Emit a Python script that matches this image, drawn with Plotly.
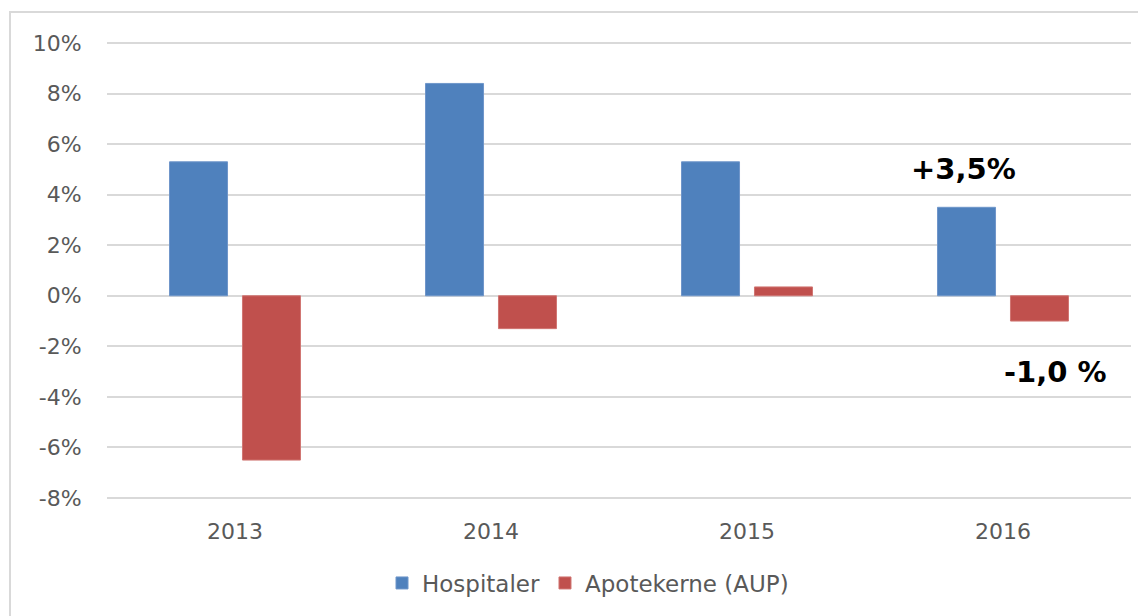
import plotly.graph_objects as go

years = ["2013", "2014", "2015", "2016"]
hospitaler = [5.3, 8.4, 5.3, 3.5]
apotekerne = [-6.5, -1.3, 0.35, -1.0]
series_names = ["Hospitaler", "Apotekerne (AUP)"]
tick_vals = [-8, -6, -4, -2, 0, 2, 4, 6, 8, 10]
tick_text = [f"{v}%" for v in tick_vals]
ann_texts = ["+3,5%", "-1,0 %"]
ann_y = [5.0, -3.0]

# page has an 8px body margin, so figure coordinates are page coordinates minus 8
OFF = 8
W, H = 1146, 616
ML, MT = 107 - OFF, 42 - OFF
MR = W - (1131 - OFF)
MB = H - (499 - OFF)
pw, ph = W - ML - MR, H - MT - MB

def px(x):
    return (x - OFF - ML) / pw

def py(y):
    return (H - MB - (y - OFF)) / ph

fig = go.Figure()
fig.add_trace(go.Bar(x=years, y=hospitaler, name=series_names[0],
                     marker=dict(color="#4F81BD", line=dict(color="#6F96CA", width=1))))
fig.add_trace(go.Bar(x=years, y=apotekerne, name=series_names[1],
                     marker=dict(color="#C0504D", line=dict(color="#D07572", width=1))))

# annotation x given as category index of the last year
last = years.index("2016")
fig.add_annotation(x=last, y=ann_y[0], text=ann_texts[0], showarrow=False,
                   xshift=-40, font=dict(family="DejaVu Sans", size=29, color="#000000", weight="bold"))
fig.add_annotation(x=last, y=ann_y[1], text=ann_texts[1], showarrow=False,
                   xshift=52, font=dict(family="DejaVu Sans", size=29, color="#000000", weight="bold"))

fig.add_shape(type="rect", xref="paper", yref="paper",
              x0=px(10), x1=px(1170), y0=py(650), y1=py(12),
              line=dict(color="#D9D9D9", width=2), fillcolor="rgba(0,0,0,0)", layer="below")

fig.update_layout(
    width=W, height=H,
    margin=dict(l=ML, r=MR, t=MT, b=MB, autoexpand=False),
    paper_bgcolor="white", plot_bgcolor="white",
    barmode="group", bargap=0.43, bargroupgap=0.205,
    font=dict(family="DejaVu Sans", color="#595959", size=22),
    showlegend=True,
    legend=dict(orientation="h", x=px(588), xanchor="center", y=py(583), yanchor="middle",
                font=dict(size=23, color="#595959"), traceorder="normal", itemwidth=30),
    xaxis=dict(type="category", showgrid=False, showline=False,
               ticks="outside", ticklen=13, tickcolor="rgba(0,0,0,0)",
               tickfont=dict(size=22, color="#595959")),
    yaxis=dict(range=[-8.04, 10.04], tickvals=tick_vals, ticktext=tick_text,
               showgrid=True, gridcolor="#D9D9D9", gridwidth=2,
               zeroline=True, zerolinecolor="#D9D9D9", zerolinewidth=2,
               showline=False, ticks="outside", ticklen=20, tickcolor="rgba(0,0,0,0)",
               tickfont=dict(size=22, color="#595959")),
)

fig.write_html("out.html")
